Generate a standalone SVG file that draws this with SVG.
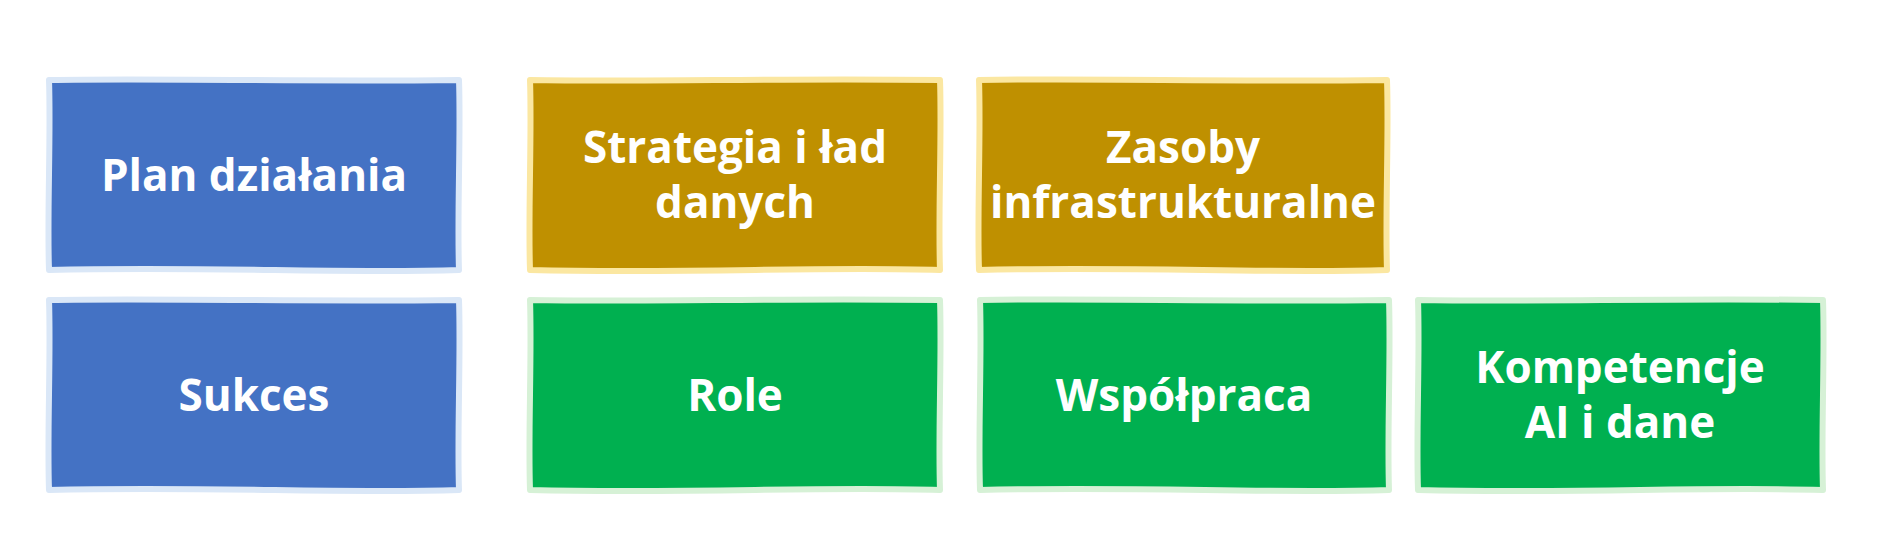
<svg xmlns="http://www.w3.org/2000/svg" width="1899" height="560" viewBox="0 0 1899 560">
<style>
.box{stroke-width:6;stroke-linejoin:round}
.blue{fill:#4472c4;stroke:#dae7f7}
.gold{fill:#bf9000;stroke:#fbe7a1}
.green{fill:#00b050;stroke:#d6f1d6}
.lbl{font-family:"Open Sans","Noto Sans","Liberation Sans",sans-serif;font-weight:700;font-size:44px;fill:#ffffff;text-anchor:middle}
</style>
<rect width="1899" height="560" fill="#ffffff"/>
<g id="connectors"></g>
<g id="plan">
<path class="box blue" d="M49,80 C172,78 295,82 459,80 C461,137 457,213 459,270 C336,274 213,266 49,270 C47,213 51,137 49,80 Z"/>
<text class="lbl" x="254" y="191">Plan działania</text>
</g>
<g id="strategia">
<path class="box gold" d="M530,80 C653,82 776,78 940,80 C942,137 938,213 940,270 C817,266 694,274 530,270 C528,213 532,137 530,80 Z"/>
<text class="lbl" x="735" y="163">Strategia i ład</text>
<text class="lbl" x="735" y="218">danych</text>
</g>
<g id="zasoby">
<path class="box gold" d="M979,80 C1101,78 1224,82 1387,80 C1389,137 1385,213 1387,270 C1264,274 1142,266 979,270 C977,213 981,137 979,80 Z"/>
<text class="lbl" x="1183" y="163">Zasoby</text>
<text class="lbl" x="1183" y="218">infrastrukturalne</text>
</g>
<g id="sukces">
<path class="box blue" d="M49,300 C172,298 295,302 459,300 C461,357 457,433 459,490 C336,494 213,486 49,490 C47,433 51,357 49,300 Z"/>
<text class="lbl" x="254" y="411">Sukces</text>
</g>
<g id="role">
<path class="box green" d="M530,300 C653,302 776,298 940,300 C942,357 938,433 940,490 C817,486 694,494 530,490 C528,433 532,357 530,300 Z"/>
<text class="lbl" x="735" y="411">Role</text>
</g>
<g id="wspolpraca">
<path class="box green" d="M980,300 C1103,298 1226,302 1389,300 C1391,357 1387,433 1389,490 C1266,494 1143,486 980,490 C978,433 982,357 980,300 Z"/>
<text class="lbl" x="1184" y="411">Współpraca</text>
</g>
<g id="kompetencje">
<path class="box green" d="M1418,300 C1540,302 1662,298 1823,300 C1825,357 1821,433 1823,490 C1701,486 1580,494 1418,490 C1416,433 1420,357 1418,300 Z"/>
<text class="lbl" x="1620" y="383">Kompetencje</text>
<text class="lbl" x="1620" y="438">AI i dane</text>
</g>
</svg>
